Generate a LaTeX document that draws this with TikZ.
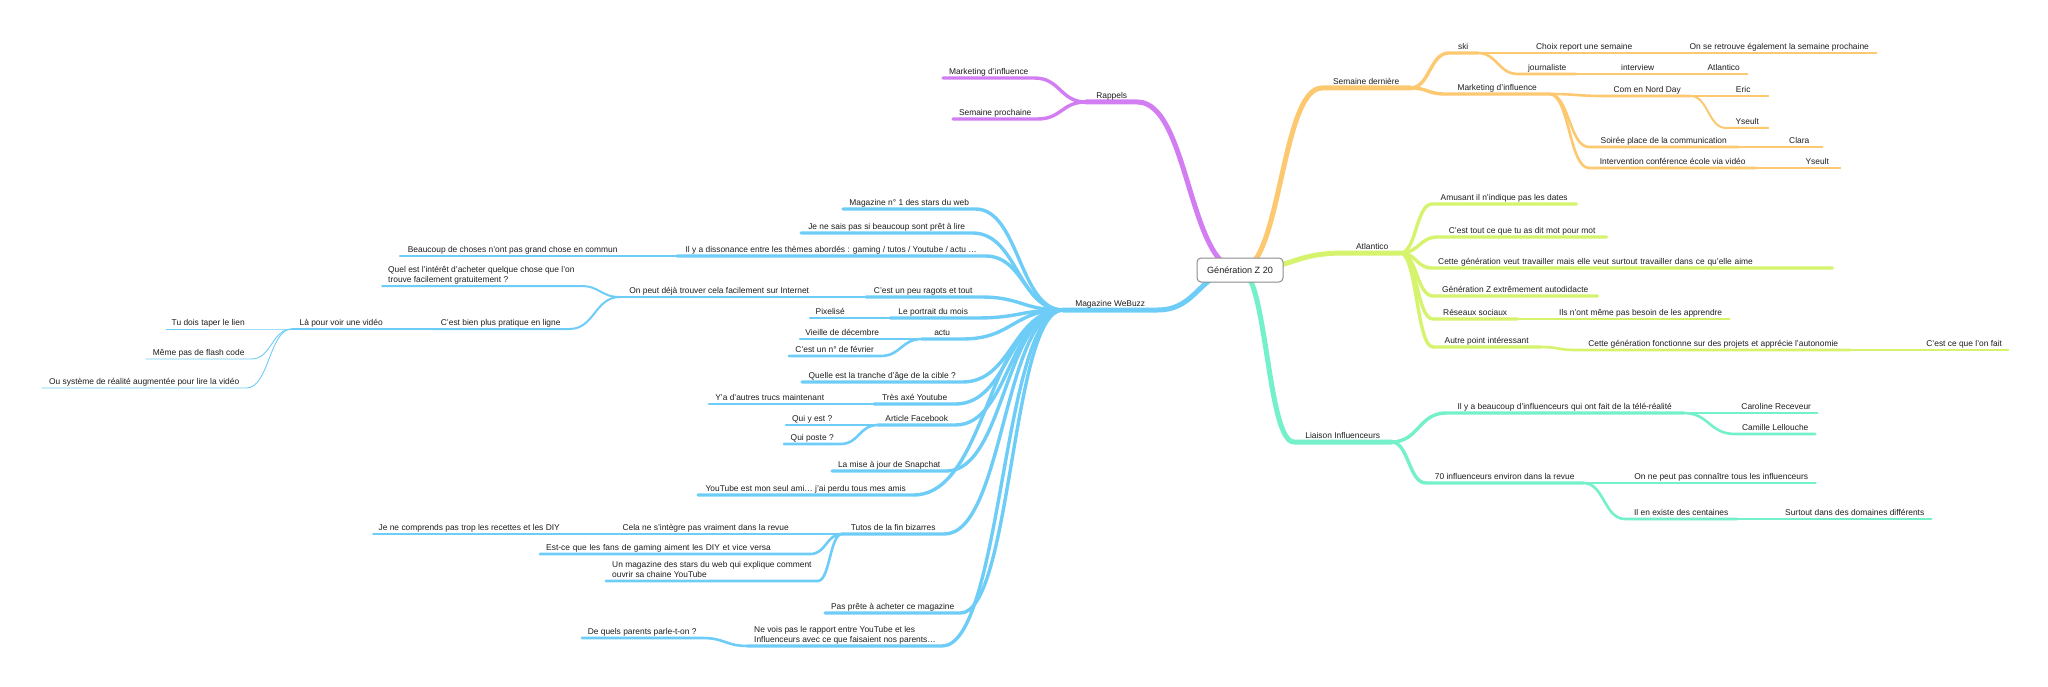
\documentclass[tikz,border=0pt]{standalone}
\usepackage{fontspec}
\setmainfont{Liberation Sans}
\usepackage{tikz}
\usetikzlibrary{calc, backgrounds}
\definecolor{ink}{RGB}{30,30,30}
\definecolor{frame}{RGB}{140,140,140}
\definecolor{mmorange}{RGB}{252,200,112}
\definecolor{mmlime}{RGB}{214,243,110}
\definecolor{mmmint}{RGB}{116,240,202}
\definecolor{mmblue}{RGB}{110,205,247}
\definecolor{mmpurple}{RGB}{210,126,242}
\newcommand{\mmfont}{\fontsize{8.4}{9.4}\selectfont}
\newcommand{\centralfont}{\fontsize{9.1}{11}\selectfont}
\tikzset{central/.style = {shape = rectangle, rounded corners = 4pt, draw = frame, line width = 1pt, fill = white, minimum width = 86pt, minimum height = 24pt, font = \centralfont, text = ink}}
\tikzset{mmbase/.style = {font = \mmfont, text = ink, anchor = south west}}
\tikzset{idea/.style = {mmbase, inner xsep = 0pt, inner ysep = 1.6pt, text height = 6.5pt, text depth = 1.9pt, minimum width = #1pt}}
\tikzset{long/.style = {mmbase, inner xsep = 6pt, inner ysep = 1.6pt, text height = 6.5pt, text depth = 1.9pt, text width = #1pt, align = left}}
\tikzset{note/.style = {mmbase, inner xsep = 6pt, inner ysep = 0.7pt, align = left}}
\tikzset{mm/.style = {to path = {let \p1 = (\tikztostart), \p2 = (\tikztotarget), \n1 = {0.5*(\x2-\x1)}, \n2 = {0.5*(\x1-\x2)} in .. controls +(\n1,0) and +(\n2,0) .. (\tikztotarget) \tikztonodes}}}
\tikzset{link/.style = {draw = #1, line cap = round, line join = round}}
\tikzset{lv1/.style = {line width = 5pt}, lv2/.style = {line width = 3.4pt}, lv3/.style = {line width = 2.6pt}}
\tikzset{lv4/.style = {line width = 2pt}, lv5/.style = {line width = 1.4pt}, lv6/.style = {line width = 0.9pt}}

\begin{document}
\begin{tikzpicture}[x = 1pt, y = -1pt]
				\useasboundingbox (0, 0) rectangle (2048, 687);

				\node[central] (root) at (1240, 270) {Génération Z 20};

				\node[idea = 88] (sd) at (1322, 88) {Semaine dernière};
				\node[idea = 28] (ski) at (1449, 53) {ski};
				\node[idea = 112] (choix) at (1528, 53) {Choix report une semaine};
				\node[idea = 194] (retrouve) at (1682, 53) {On se retrouve également la semaine prochaine};
				\node[idea = 58] (journaliste) at (1518, 74) {journaliste};
				\node[idea = 51] (interview) at (1612, 74) {interview};
				\node[idea = 47] (atlantico2) at (1700, 74) {Atlantico};
				\node[idea = 104] (marketing) at (1445, 94) {Marketing d'influence};
				\node[idea = 86] (nordday) at (1604, 96) {Com en Nord Day};
				\node[idea = 50] (eric) at (1718, 96) {Eric};
				\node[idea = 42] (yseult) at (1726, 128) {Yseult};
				\node[idea = 149] (soiree) at (1589, 147) {Soirée place de la communication};
				\node[idea = 46] (clara) at (1776, 147) {Clara};
				\node[idea = 167] (ecole) at (1589, 168) {Intervention conférence école via vidéo};
				\node[idea = 46] (yseult2) at (1794, 168) {Yseult};

				\node[idea = 56] (atlantico) at (1344, 253) {Atlantico};
				\node[idea = 144] (dates) at (1432, 204) {Amusant il n'indique pas les dates};
				\node[idea = 168] (motpourmot) at (1438, 237) {C'est tout ce que tu as dit mot pour mot};
				\node[long = 388] (travailler) at (1432, 268) {Cette génération veut travailler mais elle veut surtout travailler dans ce qu'elle aime};
				\node[idea = 164] (autodidacte) at (1433, 296) {Génération Z extrêmement autodidacte};
				\node[idea = 84] (reseaux) at (1433, 319) {Réseaux sociaux};
				\node[idea = 177] (apprendre) at (1552, 319) {Ils n'ont même pas besoin de les apprendre};
				\node[idea = 107] (autrepoint) at (1433, 347) {Autre point intéressant};
				\node[idea = 274] (projets) at (1576, 350) {Cette génération fonctionne sur des projets et apprécie l'autonomie};
				\node[idea = 88] (onfait) at (1920, 350) {C'est ce que l'on fait};

				\node[idea = 97] (liaison) at (1294, 442) {Liaison Influenceurs};
				\node[idea = 237] (telerealite) at (1446, 413) {Il y a beaucoup d'influenceurs qui ont fait de la télé-réalité};
				\node[idea = 82] (caroline) at (1735, 413) {Caroline Receveur};
				\node[idea = 80] (camille) at (1735, 434) {Camille Lellouche};
				\node[idea = 157] (septante) at (1426, 483) {70 influenceurs environ dans la revue};
				\node[idea = 188] (connaitre) at (1627, 483) {On ne peut pas connaître tous les influenceurs};
				\node[idea = 112] (centaines) at (1625, 519) {Il en existe des centaines};
				\node[idea = 153] (domaines) at (1778, 519) {Surtout dans des domaines différents};

				\node[idea = 51] (rappels) at (1086, 102) {Rappels};
				\node[idea = 91] (rmarketing) at (943, 78) {Marketing d'influence};
				\node[idea = 84] (prochaine) at (953, 119) {Semaine prochaine};

				\node[idea = 94] (webuzz) at (1063, 310) {Magazine WeBuzz};
				\node[idea = 132] (stars) at (843, 209) {Magazine n° 1 des stars du web};
				\node[idea = 171] (pretlire) at (801, 233) {Je ne sais pas si beaucoup sont prêt à lire};
				\node[idea = 308] (dissonance) at (677, 256) {Il y a dissonance entre les thèmes abordés : gaming / tutos / Youtube / actu …};
				\node[idea = 225] (commun) at (400, 256) {Beaucoup de choses n'ont pas grand chose en commun};
				\node[idea = 114] (ragots) at (866, 297) {C'est un peu ragots et tout};
				\node[idea = 198] (internet) at (620, 297) {On peut déjà trouver cela facilement sur Internet};
				\node[note] (interet) at (382, 286) {Quel est l'intérêt d'acheter quelque chose que l'on\\trouve facilement gratuitement ?\strut};
				\node[idea = 137] (pratique) at (432, 329) {C'est bien plus pratique en ligne};
				\node[idea = 98] (video) at (292, 329) {Là pour voir une vidéo};
				\node[idea = 84] (lien) at (166, 329) {Tu dois taper le lien};
				\node[idea = 105] (flashcode) at (146, 359) {Même pas de flash code};
				\node[idea = 204] (realite) at (42, 388) {Ou système de réalité augmentée pour lire la vidéo};
				\node[idea = 86] (portrait) at (890, 318) {Le portrait du mois};
				\node[idea = 40] (pixelise) at (810, 318) {Pixelisé};
				\node[idea = 40] (actu) at (922, 339) {actu};
				\node[idea = 84] (decembre) at (800, 339) {Vieille de décembre};
				\node[idea = 91] (fevrier) at (789, 356) {C'est un n° de février};
				\node[idea = 160] (cible) at (802, 382) {Quelle est la tranche d'âge de la cible ?};
				\node[idea = 81] (axe) at (874, 404) {Très axé Youtube};
				\node[idea = 121] (trucs) at (709, 404) {Y'a d'autres trucs maintenant};
				\node[idea = 77] (facebook) at (878, 425) {Article Facebook};
				\node[idea = 52] (quiyest) at (786, 425) {Qui y est ?};
				\node[idea = 56] (quiposte) at (784, 444) {Qui poste ?};
				\node[idea = 114] (snapchat) at (832, 471) {La mise à jour de Snapchat};
				\node[idea = 215] (seulami) at (698, 495) {YouTube est mon seul ami… j'ai perdu tous mes amis};
				\node[idea = 102] (tutos) at (842, 534) {Tutos de la fin bizarres};
				\node[idea = 183] (revue) at (614, 534) {Cela ne s'intègre pas vraiment dans la revue};
				\node[idea = 192] (recettes) at (373, 534) {Je ne comprends pas trop les recettes et les DIY};
				\node[long = 258] (gaming) at (540, 554) {Est-ce que les fans de gaming aiment les DIY et vice versa};
				\node[note] (chaine) at (606, 581) {Un magazine des stars du web qui explique comment\\ouvrir sa chaine YouTube\strut};
				\node[idea = 135] (acheter) at (825, 613) {Pas prête à acheter ce magazine};
				\node[note] (parents) at (748, 646) {Ne vois pas le rapport entre YouTube et les\\Influenceurs avec ce que faisaient nos parents…\strut};
				\node[idea = 120] (quels) at (582, 638) {De quels parents parle-t-on ?};

				\begin{scope}[on background layer]
				\fill[white] (0, 0) rectangle (2048, 687);

				\draw[link = mmpurple, lv1] (root.center) to[mm] (rappels.south east) -- (rappels.south west);
				\draw[link = mmpurple, lv2] (rappels.south west) to[mm] (rmarketing.south east) -- (rmarketing.south west);
				\draw[link = mmpurple, lv2] (rappels.south west) to[mm] (prochaine.south east) -- (prochaine.south west);

				\draw[link = mmorange, lv1] (root.center) to[mm] (sd.south west) -- (sd.south east);
				\draw[link = mmorange, lv2] (sd.south east) to[mm] (ski.south west) -- (ski.south east);
				\draw[link = mmorange, lv2] (sd.south east) to[mm] (marketing.south west) -- (marketing.south east);
				\draw[link = mmorange, lv3] (ski.south east) to[mm] (choix.south west) -- (choix.south east);
				\draw[link = mmorange, lv3] (ski.south east) to[mm] (journaliste.south west) -- (journaliste.south east);
				\draw[link = mmorange, lv4] (choix.south east) to[mm] (retrouve.south west) -- (retrouve.south east);
				\draw[link = mmorange, lv4] (journaliste.south east) to[mm] (interview.south west) -- (interview.south east);
				\draw[link = mmorange, lv5] (interview.south east) to[mm] (atlantico2.south west) -- (atlantico2.south east);
				\draw[link = mmorange, lv3] (marketing.south east) to[mm] (nordday.south west) -- (nordday.south east);
				\draw[link = mmorange, lv3] (marketing.south east) to[mm] (soiree.south west) -- (soiree.south east);
				\draw[link = mmorange, lv3] (marketing.south east) to[mm] (ecole.south west) -- (ecole.south east);
				\draw[link = mmorange, lv4] (nordday.south east) to[mm] (eric.south west) -- (eric.south east);
				\draw[link = mmorange, lv4] (nordday.south east) to[mm] (yseult.south west) -- (yseult.south east);
				\draw[link = mmorange, lv4] (soiree.south east) to[mm] (clara.south west) -- (clara.south east);
				\draw[link = mmorange, lv4] (ecole.south east) to[mm] (yseult2.south west) -- (yseult2.south east);

				\draw[link = mmlime, lv1] (root.center) to[mm] (atlantico.south west) -- (atlantico.south east);
				\draw[link = mmlime, lv2] (atlantico.south east) to[mm] (dates.south west) -- (dates.south east);
				\draw[link = mmlime, lv2] (atlantico.south east) to[mm] (motpourmot.south west) -- (motpourmot.south east);
				\draw[link = mmlime, lv2] (atlantico.south east) to[mm] (travailler.south west) -- (travailler.south east);
				\draw[link = mmlime, lv2] (atlantico.south east) to[mm] (autodidacte.south west) -- (autodidacte.south east);
				\draw[link = mmlime, lv2] (atlantico.south east) to[mm] (reseaux.south west) -- (reseaux.south east);
				\draw[link = mmlime, lv2] (atlantico.south east) to[mm] (autrepoint.south west) -- (autrepoint.south east);
				\draw[link = mmlime, lv3] (reseaux.south east) to[mm] (apprendre.south west) -- (apprendre.south east);
				\draw[link = mmlime, lv3] (autrepoint.south east) to[mm] (projets.south west) -- (projets.south east);
				\draw[link = mmlime, lv4] (projets.south east) to[mm] (onfait.south west) -- (onfait.south east);

				\draw[link = mmmint, lv1] (root.center) to[mm] (liaison.south west) -- (liaison.south east);
				\draw[link = mmmint, lv2] (liaison.south east) to[mm] (telerealite.south west) -- (telerealite.south east);
				\draw[link = mmmint, lv2] (liaison.south east) to[mm] (septante.south west) -- (septante.south east);
				\draw[link = mmmint, lv3] (telerealite.south east) to[mm] (caroline.south west) -- (caroline.south east);
				\draw[link = mmmint, lv3] (telerealite.south east) to[mm] (camille.south west) -- (camille.south east);
				\draw[link = mmmint, lv3] (septante.south east) to[mm] (connaitre.south west) -- (connaitre.south east);
				\draw[link = mmmint, lv3] (septante.south east) to[mm] (centaines.south west) -- (centaines.south east);
				\draw[link = mmmint, lv4] (centaines.south east) to[mm] (domaines.south west) -- (domaines.south east);

				\draw[link = mmblue, lv1] (root.center) to[mm] (webuzz.south east) -- (webuzz.south west);
				\draw[link = mmblue, lv2] (webuzz.south west) to[mm] (stars.south east) -- (stars.south west);
				\draw[link = mmblue, lv2] (webuzz.south west) to[mm] (pretlire.south east) -- (pretlire.south west);
				\draw[link = mmblue, lv2] (webuzz.south west) to[mm] (dissonance.south east) -- (dissonance.south west);
				\draw[link = mmblue, lv2] (webuzz.south west) to[mm] (ragots.south east) -- (ragots.south west);
				\draw[link = mmblue, lv2] (webuzz.south west) to[mm] (portrait.south east) -- (portrait.south west);
				\draw[link = mmblue, lv2] (webuzz.south west) to[mm] (actu.south east) -- (actu.south west);
				\draw[link = mmblue, lv2] (webuzz.south west) to[mm] (cible.south east) -- (cible.south west);
				\draw[link = mmblue, lv2] (webuzz.south west) to[mm] (axe.south east) -- (axe.south west);
				\draw[link = mmblue, lv2] (webuzz.south west) to[mm] (facebook.south east) -- (facebook.south west);
				\draw[link = mmblue, lv2] (webuzz.south west) to[mm] (snapchat.south east) -- (snapchat.south west);
				\draw[link = mmblue, lv2] (webuzz.south west) to[mm] (seulami.south east) -- (seulami.south west);
				\draw[link = mmblue, lv2] (webuzz.south west) to[mm] (tutos.south east) -- (tutos.south west);
				\draw[link = mmblue, lv2] (webuzz.south west) to[mm] (acheter.south east) -- (acheter.south west);
				\draw[link = mmblue, lv2] (webuzz.south west) to[mm] (parents.south east) -- (parents.south west);
				\draw[link = mmblue, lv3] (dissonance.south west) to[mm] (commun.south east) -- (commun.south west);
				\draw[link = mmblue, lv3] (ragots.south west) to[mm] (internet.south east) -- (internet.south west);
				\draw[link = mmblue, lv4] (internet.south west) to[mm] (interet.south east) -- (interet.south west);
				\draw[link = mmblue, lv4] (internet.south west) to[mm] (pratique.south east) -- (pratique.south west);
				\draw[link = mmblue, lv5] (pratique.south west) to[mm] (video.south east) -- (video.south west);
				\draw[link = mmblue, lv6] (video.south west) to[mm] (lien.south east) -- (lien.south west);
				\draw[link = mmblue, lv6] (video.south west) to[mm] (flashcode.south east) -- (flashcode.south west);
				\draw[link = mmblue, lv6] (video.south west) to[mm] (realite.south east) -- (realite.south west);
				\draw[link = mmblue, lv3] (portrait.south west) to[mm] (pixelise.south east) -- (pixelise.south west);
				\draw[link = mmblue, lv3] (actu.south west) to[mm] (decembre.south east) -- (decembre.south west);
				\draw[link = mmblue, lv3] (actu.south west) to[mm] (fevrier.south east) -- (fevrier.south west);
				\draw[link = mmblue, lv3] (axe.south west) to[mm] (trucs.south east) -- (trucs.south west);
				\draw[link = mmblue, lv3] (facebook.south west) to[mm] (quiyest.south east) -- (quiyest.south west);
				\draw[link = mmblue, lv3] (facebook.south west) to[mm] (quiposte.south east) -- (quiposte.south west);
				\draw[link = mmblue, lv3] (tutos.south west) to[mm] (revue.south east) -- (revue.south west);
				\draw[link = mmblue, lv3] (tutos.south west) to[mm] (gaming.south east) -- (gaming.south west);
				\draw[link = mmblue, lv3] (tutos.south west) to[mm] (chaine.south east) -- (chaine.south west);
				\draw[link = mmblue, lv4] (revue.south west) to[mm] (recettes.south east) -- (recettes.south west);
				\draw[link = mmblue, lv3] (parents.south west) to[mm] (quels.south east) -- (quels.south west);
				\end{scope}
			\end{tikzpicture}
\end{document}
